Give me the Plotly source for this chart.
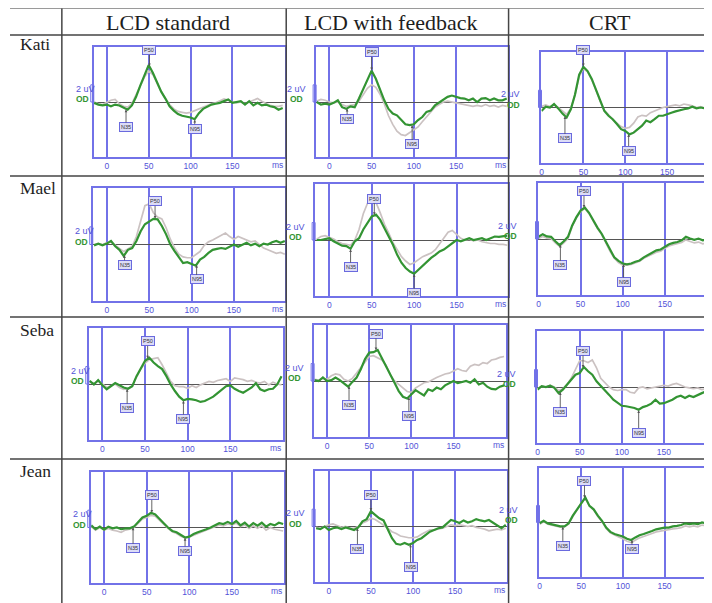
import numpy as np
import plotly.graph_objects as go

# The page body has an 8px margin, so the figure is drawn 8px in from the
# window's top-left corner; coordinates below are window pixels.
OFF = 8
W, H = 712 - OFF, 603 - OFF


def fx(px):
    return (px - OFF) / W


def fy(py):
    return 1 - (py - OFF) / H


# ---------------- data ----------------
column_titles = ["LCD standard", "LCD with feedback", "CRT"]
subjects = ["Kati", "Mael", "Seba", "Jean"]

t_lcd = [-15, -10, -5, 0, 5, 10, 15, 20, 25, 30, 35, 40, 45, 50, 55, 60, 65, 70, 75, 80,
         85, 90, 95, 100, 105, 110, 115, 120, 125, 130, 135, 140, 145, 150, 155, 160,
         165, 170, 175, 180, 185, 190, 195, 200, 205, 210]
t_crt = [0, 5, 10, 15, 20, 25, 30, 35, 40, 45, 50, 55, 60, 65, 70, 75, 80, 85, 90, 95,
         100, 105, 110, 115, 120, 125, 130, 135, 140, 145, 150, 155, 160, 165, 170, 175,
         180, 185, 190, 195, 200, 205]

kati_std_green = [-0.1, -0.3, -0.4, -0.3, -0.5, -0.3, -0.4, -0.7, -0.9, -0.4, 0.6, 1.9, 3.1, 4.3, 3.4, 2.3, 1.2, 0.4, -0.5, -1.0,
                  -1.4, -1.6, -1.7, -1.8, -2.0, -1.3, -0.8, -0.5, -0.3, -0.2, -0.1, 0.1, 0.3, -0.1, 0.0, 0.1, -0.3, 0.1, -0.4, -0.1,
                  -0.4, -0.3, -0.5, -0.6, -0.9, -0.7]
kati_std_gray = [0.0, -0.2, -0.3, 0.0, 0.2, 0.3, -0.2, -0.5, -0.6, -0.2, 0.8, 1.8, 2.9, 3.6, 3.2, 2.2, 1.2, 0.4, -0.3, -0.8,
                 -1.1, -1.2, -1.3, -1.2, -1.0, -0.8, -0.6, -0.4, -0.2, -0.1, 0.1, 0.35, 0.2, 0.0, -0.1, 0.0, -0.2, 0.0, 0.2, 0.4,
                 0.1, -0.2, -0.4, -0.5, -0.5, -0.4]
kati_fb_green = [0.0, -0.3, -0.2, -0.3, -0.1, 0.2, -0.6, -0.8, -0.5, -0.6, 0.4, 1.55, 2.7, 3.65, 2.7, 1.35, 0.2, -0.8, -1.35, -1.55,
                 -2.1, -2.6, -2.7, -2.6, -2.1, -1.75, -1.15, -1.0, -0.4, -0.1, 0.2, 0.6, 0.75, 0.6, 0.45, 0.4, 0.2, 0.4, 0.0, 0.4,
                 0.45, 0.2, 0.4, 0.2, 0.2, 0.4]
kati_fb_gray = [0.1, 0.3, 0.2, 0.0, -0.1, 0.0, -0.3, -0.5, -0.4, -0.3, 0.1, 0.8, 1.6, 2.0, 1.7, 0.9, -0.2, -1.6, -2.6, -3.4,
                -3.8, -3.9, -3.6, -3.3, -2.9, -2.3, -1.7, -1.1, -0.6, -0.3, 0.0, 0.1, 0.0, -0.1, -0.2, -0.3, -0.4, -0.5, -0.4, -0.5,
                -0.3, -0.5, -0.4, -0.6, -0.4, -0.5]
kati_crt_green = [-0.4, 0.1, 0.0, 0.4, -0.1, -0.7, -1.15, -0.2, 1.5, 3.8, 4.7, 4.2, 3.3, 2.1, 0.8, -0.4, -0.95, -1.35, -1.9, -2.5,
                  -2.7, -3.1, -2.9, -2.5, -2.1, -1.5, -1.7, -1.35, -0.95, -0.95, -0.75, -0.6, -0.45, -0.3, -0.2, -0.1, 0.1, -0.1, 0.0, -0.1,
                  0.0, -0.1]
kati_crt_gray = [0.1, 0.3, 0.1, 0.3, 0.0, -0.4, -0.8, -0.1, 1.4, 3.6, 4.5, 4.1, 3.2, 2.0, 0.7, -0.3, -0.9, -1.4, -1.8, -2.2,
                 -2.4, -2.3, -1.8, -1.1, -0.9, -1.0, -0.6, -0.4, -0.2, 0.0, 0.1, 0.2, 0.3, 0.2, 0.4, 0.3, 0.2, 0.0, 0.1, -0.1,
                 -0.2, -0.3]

mael_std_green = [-0.1, 0.1, -0.1, 0.1, 0.4, -0.2, -0.6, -1.3, -0.6, -0.4, 0.4, 1.5, 2.3, 2.65, 2.9, 2.85, 2.1, 1.15, 0.0, -0.75,
                  -1.5, -2.1, -2.0, -2.2, -2.4, -1.7, -1.4, -0.95, -0.6, -0.5, -0.4, -0.5, -0.25, 0.0, -0.25, 0.0, 0.2, -0.1, 0.1, -0.2,
                  0.1, 0.0, 0.25, 0.4, 0.2, 0.4]
mael_std_gray = [0.0, 0.1, 0.0, 0.2, 0.3, -0.1, -0.4, -0.8, -0.5, -0.2, 0.9, 2.8, 4.4, 4.6, 3.6, 3.1, 2.9, 1.9, 0.6, -0.4,
                 -1.1, -1.4, -1.5, -1.5, -1.2, -0.8, -0.1, 0.3, 0.5, 0.8, 1.1, 1.3, 0.9, 0.6, 0.9, 0.7, 0.5, 0.3, 0.4, 0.0,
                 -0.4, -0.6, -0.8, -1.0, -0.9, -1.1]
mael_fb_green = [0.0, 0.0, 0.1, 0.2, -0.15, -0.4, -0.65, -0.7, -1.0, -0.15, 0.2, 1.2, 1.95, 2.7, 2.9, 2.3, 1.35, 0.4, -0.55, -1.7,
                 -2.6, -3.2, -3.6, -3.85, -3.4, -3.0, -2.45, -2.05, -1.7, -1.3, -1.1, -0.7, -0.4, 0.0, -0.15, 0.0, 0.2, 0.0, 0.1, 0.2,
                 0.0, 0.2, 0.4, 0.35, 0.4, 0.5]
mael_fb_gray = [0.1, 0.4, 0.5, 0.3, 0.1, -0.2, -0.4, -0.5, -0.6, 0.0, 1.2, 3.0, 4.2, 4.6, 4.3, 3.1, 1.8, 0.8, -0.3, -1.1,
                -1.9, -2.4, -2.8, -2.6, -2.2, -1.9, -1.7, -1.5, -1.1, -0.4, 0.3, 0.9, 1.1, 0.6, 0.2, 0.0, 0.1, -0.1, 0.0, -0.2,
                -0.3, -0.4, -0.4, -0.5, -0.5, -0.6]
mael_crt_green = [0.25, 0.55, 0.3, 0.25, -0.25, -0.7, -0.25, 0.25, 1.55, 2.5, 3.25, 3.6, 3.0, 2.1, 1.3, 0.6, -0.35, -1.3, -2.1, -2.5,
                  -2.8, -2.9, -2.8, -2.6, -2.45, -2.1, -1.85, -1.6, -1.3, -1.2, -0.85, -0.6, -0.45, -0.35, -0.15, 0.25, 0.05, -0.1, 0.05, -0.15,
                  -0.1, -0.25]
mael_crt_gray = [0.05, 0.3, 0.1, 0.05, -0.45, -0.85, -0.45, 0.05, 1.4, 2.4, 3.1, 3.5, 2.9, 2.0, 1.2, 0.5, -0.5, -1.4, -2.2, -2.7,
                 -3.0, -3.0, -2.9, -2.7, -2.55, -2.2, -2.0, -1.75, -1.5, -1.4, -1.05, -0.8, -0.65, -0.55, -0.4, -0.1, -0.3, -0.45, -0.35, -0.55,
                 -0.5, -0.6]

seba_std_green = [0.35, -0.05, 0.45, -0.15, -0.6, -0.3, 0.1, -0.15, -0.4, -0.55, -0.25, 0.9, 1.85, 2.65, 3.0, 2.45, 2.05, 1.7, 0.9, -0.05,
                  -0.8, -1.45, -1.85, -1.7, -1.75, -1.85, -2.05, -1.95, -1.7, -1.45, -1.05, -0.6, -0.25, -0.15, -0.55, -0.8, -1.0, -0.7, -0.4, 0.1,
                  -0.6, -0.8, -0.6, -0.55, -0.05, 0.9]
seba_std_gray = [0.2, 0.1, 0.3, 0.0, -0.4, -0.2, 0.0, -0.4, -0.6, -0.5, -0.2, 0.8, 1.7, 2.4, 2.8, 2.9, 3.0, 2.2, 1.3, 0.3,
                 -0.2, -0.3, -0.3, -0.5, -0.2, -0.4, -0.1, 0.1, 0.3, 0.2, 0.4, 0.5, 0.6, 0.3, 0.7, 0.6, 0.5, 0.3, 0.4, 0.2,
                 0.1, 0.3, -0.1, 0.2, 0.0, -0.1]
seba_fb_green = [0.1, 0.0, 0.4, 0.0, 0.1, 0.4, 0.1, -0.25, -0.65, -0.1, 0.4, 1.35, 2.5, 3.25, 3.3, 3.55, 2.65, 1.7, 0.75, -0.2,
                 -1.15, -1.8, -2.0, -1.5, -1.05, -1.35, -1.65, -0.95, -1.15, -0.75, -0.95, -0.5, -0.25, 0.0, -0.25, -0.1, 0.0, -0.2, 0.2, -0.4,
                 -0.2, -0.65, -0.9, -0.95, -0.65, -0.5]
seba_fb_gray = [0.2, 0.1, 0.3, 0.2, 0.6, 0.8, 0.7, 0.2, 0.0, 0.3, 0.9, 1.5, 2.2, 2.8, 2.9, 2.6, 2.4, 1.8, 0.7, 0.0,
                -0.4, -0.8, -1.2, -1.3, -0.8, -0.5, -0.2, -0.1, 0.2, 0.4, 0.6, 0.8, 0.9, 1.2, 1.4, 1.2, 1.1, 1.7, 1.9, 1.8,
                2.1, 2.0, 2.4, 2.5, 2.7, 2.8]
seba_crt_green = [-0.3, 0.1, 0.0, 0.15, -0.1, -0.7, -0.3, 0.25, 0.75, 1.4, 1.6, 2.3, 1.8, 1.4, 0.65, 0.15, -0.3, -0.9, -1.45, -1.85,
                  -2.15, -2.2, -2.3, -2.4, -2.6, -2.3, -2.15, -1.9, -1.45, -1.9, -1.85, -1.65, -1.45, -1.15, -1.0, -1.25, -1.0, -1.15, -0.9, -0.7,
                  -0.5, -0.3]
seba_crt_gray = [-0.2, 0.1, 0.0, 0.2, 0.0, -0.4, -0.2, 0.3, 1.0, 2.1, 3.0, 3.0, 2.8, 3.1, 2.2, 1.0, 0.5, 0.0, -0.3, -0.4,
                 -0.3, -0.3, -0.6, -0.7, -0.1, 0.0, -0.2, -0.1, 0.0, 0.1, 0.2, 0.1, 0.3, 0.4, 0.2, 0.0, -0.1, -0.2, -0.1, -0.3,
                 -0.2, -0.3]

jean_std_green = [0.25, -0.2, 0.1, -0.25, 0.1, -0.1, 0.0, -0.2, -0.1, -0.1, 0.1, 0.65, 1.15, 1.35, 1.7, 1.5, 0.95, 0.5, 0.0, -0.4,
                  -0.55, -0.9, -1.15, -1.05, -0.75, -0.55, -0.4, -0.2, 0.0, 0.25, 0.5, 0.4, 0.65, 0.4, 0.75, 0.25, 0.55, 0.1, 0.5, 0.2,
                  0.55, 0.1, 0.4, 0.25, 0.55, 0.4]
jean_std_gray = [0.1, -0.3, 0.0, -0.3, -0.1, -0.3, -0.4, -0.55, -0.3, -0.2, 0.0, 0.5, 1.0, 1.15, 1.4, 1.3, 0.8, 0.35, -0.1, -0.5,
                 -0.7, -1.0, -1.2, -1.1, -0.9, -0.7, -0.5, -0.3, -0.1, 0.1, 0.3, 0.2, 0.4, 0.3, 0.5, 0.1, 0.3, -0.1, 0.2, -0.1,
                 0.2, -0.3, 0.0, -0.2, -0.3, -0.4]
jean_fb_green = [-0.2, -0.3, 0.0, -0.4, -0.2, -0.1, -0.3, -0.1, -0.25, -0.4, -0.1, 0.6, 0.85, 1.75, 1.35, 0.95, 0.7, -0.4, -1.35, -2.0,
                 -2.1, -1.9, -2.1, -1.9, -1.55, -1.35, -0.95, -0.6, -0.4, -0.2, -0.1, 0.3, 0.75, 0.6, 0.4, 0.7, 0.45, 0.6, 0.85, 0.7,
                 0.6, 0.75, 0.45, 0.2, -0.2, 0.2]
jean_fb_gray = [-0.1, -0.2, 0.0, 0.2, 0.3, 0.1, -0.1, 0.0, -0.2, -0.2, 0.0, 0.4, 0.6, 0.95, 0.8, 0.5, 0.2, -0.2, -0.6, -0.8,
                -1.1, -1.2, -1.3, -1.3, -1.2, -0.9, -0.6, -0.4, -0.4, -0.3, -0.2, 0.0, 0.2, 0.1, 0.2, 0.1, 0.0, 0.1, -0.1, -0.2,
                -0.3, -0.5, -0.4, -0.3, -0.4, -0.2]
jean_crt_green = [-0.1, 0.2, -0.1, -0.2, -0.3, -0.45, -0.45, -0.1, 0.8, 1.55, 2.35, 2.95, 1.95, 1.55, 0.8, 0.2, -0.6, -1.1, -1.35, -1.5,
                  -1.65, -1.9, -2.05, -1.75, -1.5, -1.35, -1.2, -1.0, -0.8, -0.7, -0.6, -0.6, -0.45, -0.4, -0.3, -0.1, -0.2, -0.1, -0.2, 0.0,
                  -0.1, 0.0]
jean_crt_gray = [-0.2, 0.1, -0.2, -0.3, -0.4, -0.55, -0.5, -0.2, 0.7, 1.45, 2.25, 2.8, 1.9, 1.5, 0.7, 0.1, -0.7, -1.2, -1.5, -1.7,
                 -1.9, -2.2, -2.35, -2.05, -1.8, -1.65, -1.5, -1.3, -1.1, -1.0, -0.9, -0.85, -0.75, -0.7, -0.6, -0.4, -0.5, -0.4, -0.5, -0.3,
                 -0.4, -0.3]

# peak latencies (ms), panels in row order: Kati std/fb/crt, Mael ..., Seba ..., Jean ...
p50_latency = [51, 50, 50, 57, 53, 54, 53, 58, 54, 56, 50, 54]
n35_latency = [23, 21, 28, 21, 25, 26, 29, 26, 27, 34, 34, 28]
n95_latency = [105, 98, 104, 106, 100, 101, 95, 97, 120, 95, 97, 111]

panels = [
    (t_lcd, kati_std_green, kati_std_gray), (t_lcd, kati_fb_green, kati_fb_gray), (t_crt, kati_crt_green, kati_crt_gray),
    (t_lcd, mael_std_green, mael_std_gray), (t_lcd, mael_fb_green, mael_fb_gray), (t_crt, mael_crt_green, mael_crt_gray),
    (t_lcd, seba_std_green, seba_std_gray), (t_lcd, seba_fb_green, seba_fb_gray), (t_crt, seba_crt_green, seba_crt_gray),
    (t_lcd, jean_std_green, jean_std_gray), (t_lcd, jean_fb_green, jean_fb_gray), (t_crt, jean_crt_green, jean_crt_gray),
]
for t, g, r in panels:
    assert len(t) == len(g) == len(r), (len(t), len(g), len(r))

# ---------------- layout / style (window pixels) ----------------
# frame left, right, top, bottom (px) and visible time range (ms)
geom = [
    (92, 284, 47, 157, -15.5, 213), (315, 507, 47, 157, -15.7, 211), (541, 712, 52, 163, 0, 203.5),
    (91, 284, 188, 301, -16.5, 210.5), (314, 507, 184, 296, -16.8, 210.2), (538, 712, 183, 295, 0, 206),
    (87, 282, 328, 440, -16, 212), (313, 505, 325, 437, -15.4, 211.8), (537, 712, 331, 443, 0, 207),
    (89, 283, 472, 583, -15.6, 211.3), (314, 506, 471, 582, -16.2, 211), (539, 712, 468, 577, 0, 207),
]
# label box distance from the peak (uV): P50 above, N35 below, N95 below
box_off = [
    (1.9, 2.1, 1.1), (2.15, 1.2, 2.3), (1.9, 2.6, 1.95),
    (2.0, 1.15, 1.7), (1.9, 2.1, 2.25), (1.9, 2.4, 2.1),
    (2.0, 2.25, 2.15), (1.95, 2.15, 2.2), (1.95, 2.35, 2.6),
    (2.05, 2.45, 1.55), (1.9, 2.4, 2.7), (2.05, 2.3, 1.15),
]
YR = 6.4
BLUE = "#7272e8"
TICKC = "#5252d8"
GREEN = "#339433"
GRAY = "#cbc2c2"
LINE = "#454545"
SERIF = "Liberation Serif, Times New Roman, serif"

fig = go.Figure()
layout = dict(width=W, height=H, margin=dict(l=0, r=0, t=0, b=0),
              paper_bgcolor="white", plot_bgcolor="white", showlegend=False)
annotations = []
shapes = []

for k, ((t, green, gray), (L, R, T, B, x0, x1)) in enumerate(zip(panels, geom)):
    n = k + 1
    col = k % 3
    xa = "x" if n == 1 else f"x{n}"
    ya = "y" if n == 1 else f"y{n}"
    tv = [0, 50, 100, 150] if col < 2 else [0, 50, 100, 150, 200]
    layout["xaxis" if n == 1 else f"xaxis{n}"] = dict(
        domain=[fx(L), min(1.0, fx(R))], range=[x0, x1], anchor=ya,
        showgrid=True, gridcolor=BLUE, gridwidth=1.5,
        tickvals=tv, ticktext=[str(v) for v in tv], ticks="",
        tickfont=dict(size=8.5, color=TICKC, family="Arial"),
        showline=True, linecolor=BLUE, linewidth=1.5, mirror=True,
        zeroline=False, fixedrange=True)
    layout["yaxis" if n == 1 else f"yaxis{n}"] = dict(
        domain=[fy(B), fy(T)], range=[-YR, YR], anchor=xa,
        showgrid=False, showticklabels=False,
        showline=True, linecolor=BLUE, linewidth=1.5, mirror=(col < 2),
        zeroline=True, zerolinecolor="#555555", zerolinewidth=1, fixedrange=True)

    fig.add_trace(go.Scatter(x=t, y=gray, mode="lines", xaxis=xa, yaxis=ya,
                             line=dict(color=GRAY, width=1.7), hoverinfo="skip"))
    fig.add_trace(go.Scatter(x=t, y=green, mode="lines", xaxis=xa, yaxis=ya,
                             line=dict(color=GREEN, width=2.2), hoverinfo="skip"))

    # peak labels
    for name, lat, off, sgn in (("P50", p50_latency[k], box_off[k][0], 1),
                                ("N35", n35_latency[k], box_off[k][1], -1),
                                ("N95", n95_latency[k], box_off[k][2], -1)):
        yv = float(np.interp(lat, t, green))
        annotations.append(dict(
            x=lat, y=yv, xref=xa, yref=ya, ax=lat, ay=yv + sgn * off, axref=xa, ayref=ya,
            text=name, showarrow=True, arrowhead=2, arrowsize=0.6, arrowwidth=0.9,
            arrowcolor="#555555", standoff=0.5,
            font=dict(size=5.5, color="#333333", family="Arial"),
            bgcolor="#dcdcf7", bordercolor="#6a6ade", borderwidth=1, borderpad=1))

    # 2 uV calibration bracket and labels
    shapes.append(dict(type="rect", xref="paper", yref=ya, x0=fx(L - 3), x1=fx(L),
                       y0=0, y1=2, line=dict(color=BLUE, width=1), fillcolor="rgba(0,0,0,0)"))
    annotations.append(dict(x=fx(L - 20), y=1.5, xref="paper", yref=ya, text="2 uV",
                            showarrow=False, font=dict(size=9, color=TICKC, family="Arial")))
    annotations.append(dict(x=fx(L - 20), y=0.3, xref="paper", yref=ya, text="<b>OD</b>",
                            showarrow=False, font=dict(size=8.5, color=GREEN, family="Arial")))
    if col < 2:
        annotations.append(dict(x=fx(R), y=fy(B + 8), xref="paper", yref="paper", text="ms",
                                xanchor="right", yanchor="middle", showarrow=False,
                                font=dict(size=8.5, color=TICKC, family="Arial")))

# table headers and row labels
header_cx = [166, 390, 610]
for cx, title in zip(header_cx, column_titles):
    annotations.append(dict(x=fx(cx), y=fy(22), xref="paper", yref="paper", text=title,
                            showarrow=False, xanchor="center", yanchor="middle",
                            font=dict(size=22, color="#1e1e1e", family=SERIF)))
row_y = [44, 188, 330, 471]
for ry, s in zip(row_y, subjects):
    annotations.append(dict(x=fx(16), y=fy(ry), xref="paper", yref="paper", text=s,
                            showarrow=False, xanchor="left", yanchor="middle",
                            font=dict(size=17.5, color="#1e1e1e", family=SERIF)))

# table rules
hlines = [35, 176, 317, 459]
for yy in hlines:
    shapes.append(dict(type="line", xref="paper", yref="paper", x0=0, x1=1,
                       y0=fy(yy), y1=fy(yy), line=dict(color=LINE, width=1.5)))
shapes.append(dict(type="line", xref="paper", yref="paper", x0=0, x1=1,
                   y0=fy(8.5), y1=fy(8.5), line=dict(color="#9a9a9a", width=1)))
for xx in [60, 285, 508]:
    shapes.append(dict(type="line", xref="paper", yref="paper", x0=fx(xx), x1=fx(xx),
                       y0=0, y1=fy(8.5), line=dict(color=LINE, width=1.5)))

layout["annotations"] = annotations
layout["shapes"] = shapes
fig.update_layout(**layout)
fig.write_html("out.html")
